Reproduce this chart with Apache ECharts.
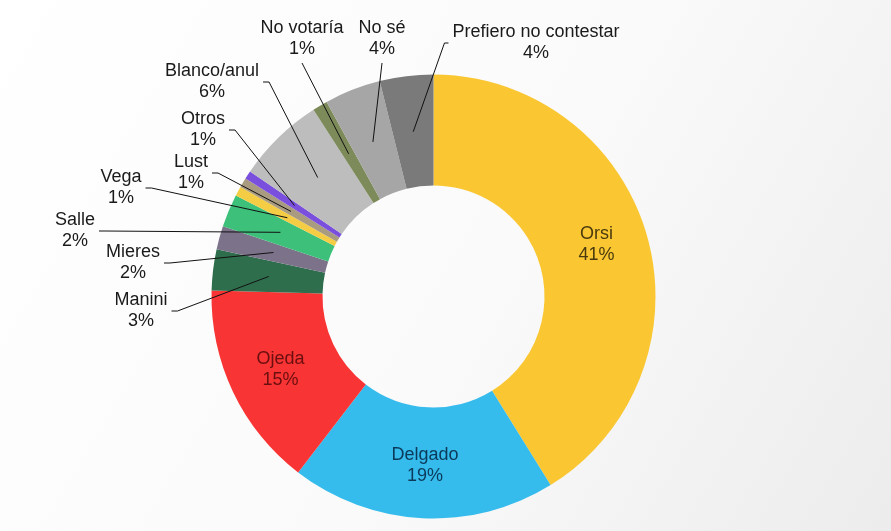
<!DOCTYPE html>
<html>
<head>
<meta charset="utf-8">
<script src="https://cdn.jsdelivr.net/npm/echarts@6/dist/echarts.min.js"></script>
<style>
  html, body { margin: 0; padding: 0; }
  #chart { width: 891px; height: 531px; }
</style>
</head>
<body>
<div id="chart"></div>
<script>
// porcentajes de intención de voto (sentido horario desde arriba)
var names = ['Orsi', 'Delgado', 'Ojeda', 'Manini', 'Mieres', 'Salle', 'Vega', 'Lust', 'Otros',
  'Blanco/anul', 'No votaría', 'No sé', 'Prefiero no contestar'];
var shares = [41.2, 19.3, 15.0, 3.0, 1.7, 2.4, 0.7, 0.7, 0.6, 6.4, 1.1, 4.1, 3.9];
var colors = ['#FAC733', '#35BBEC', '#F93434', '#2F6E4C', '#7C728A', '#3CC07A', '#F4CD45',
  '#A89B80', '#7A4FDE', '#BDBDBD', '#7D8B5B', '#A6A6A6', '#7A7A7A'];

var insideNames = ['Orsi', 'Delgado', 'Ojeda'];
var insideText = { 'Orsi': '#4a3a0e', 'Delgado': '#0c3a5a', 'Ojeda': '#6a0f0f' };

// centro del texto de cada etiqueta externa y lado por donde sale la guía
var labelSpot = {
  'Manini': [141, 311, 'right'],
  'Mieres': [133, 263, 'right'],
  'Salle': [75, 231, 'right'],
  'Vega': [121, 188, 'right'],
  'Lust': [191, 173, 'right'],
  'Otros': [203, 130, 'right'],
  'Blanco/anul': [212, 82, 'right'],
  'No votaría': [302, 39, 'bottom'],
  'No sé': [382, 39, 'bottom'],
  'Prefiero no contestar': [536, 43, 'left']
};

var CX = 433.5, CY = 296.5, R0 = 111, R1 = 222, RMID = 166;

function fmt(p) {
  return p.name + '\n' + Math.round(p.value) + '%';
}

// punto a media altura del aro, en el ángulo medio de la porción
function midRing(idx) {
  var before = 0, total = 0;
  shares.forEach(function (v, k) { total += v; if (k < idx) before += v; });
  var a = (before + shares[idx] / 2) / total * Math.PI * 2;
  return [CX + RMID * Math.sin(a), CY - RMID * Math.cos(a)];
}

var dom = document.getElementById('chart');
var myChart = echarts.init(dom);

var option = {
  backgroundColor: new echarts.graphic.LinearGradient(0, 0, 1, 1, [
    { offset: 0, color: '#ffffff' },
    { offset: 0.55, color: '#fafafa' },
    { offset: 1, color: '#ececec' }
  ]),
  animation: false,
  series: [
    {
      type: 'pie',
      z: 2,
      center: [CX, CY],
      radius: [R0, R1],
      startAngle: 90,
      clockwise: true,
      avoidLabelOverlap: false,
      itemStyle: { borderWidth: 0 },
      label: { show: false },
      labelLine: { show: false },
      labelLayout: function (p) {
        if (names[p.dataIndex] === 'Orsi') return { dy: -5 };
        return {};
      },
      data: names.map(function (n, i) {
        var inside = insideNames.indexOf(n) >= 0;
        return {
          name: n,
          value: shares[i],
          itemStyle: { color: colors[i] },
          label: inside ? {
            show: true,
            position: 'inside',
            formatter: fmt,
            fontFamily: 'Liberation Sans, Arial, sans-serif',
            fontSize: 18,
            lineHeight: 21,
            color: insideText[n]
          } : { show: false }
        };
      })
    },
    {
      // anillo invisible que sólo lleva las etiquetas externas
      type: 'pie',
      z: 5,
      center: [CX, CY],
      radius: [R0, RMID],
      startAngle: 90,
      clockwise: true,
      silent: true,
      avoidLabelOverlap: false,
      itemStyle: { color: 'rgba(0,0,0,0)' },
      label: {
        show: true,
        position: 'outside',
        formatter: fmt,
        fontFamily: 'Liberation Sans, Arial, sans-serif',
        fontSize: 18,
        lineHeight: 21,
        color: '#1a1a1a',
        align: 'center'
      },
      labelLine: {
        show: true,
        length: 10,
        length2: 10,
        smooth: false,
        lineStyle: { color: '#111111', width: 1 }
      },
      labelLayout: function (p) {
        var spot = labelSpot[names[p.dataIndex]];
        if (!spot) return {};
        var w = p.labelRect.width, h = p.labelRect.height;
        var x = spot[0], y = spot[1];
        var start = midRing(p.dataIndex);
        var pts;
        if (spot[2] === 'right') {
          pts = [start, [x + w / 2 + 10, y], [x + w / 2 + 4, y]];
        } else if (spot[2] === 'left') {
          pts = [start, [x - w / 2 - 8, y], [x - w / 2 - 4, y]];
        } else {
          pts = [start, [x, y + h / 2 + 3]];
        }
        return {
          x: x,
          y: y,
          align: 'center',
          verticalAlign: 'middle',
          labelLinePoints: pts
        };
      },
      data: names.map(function (n, i) {
        var inside = insideNames.indexOf(n) >= 0;
        return {
          name: n,
          value: shares[i],
          label: { show: !inside },
          labelLine: { show: !inside }
        };
      })
    }
  ]
};

if (option && typeof option === 'object') {
  myChart.setOption(option, true);
}
</script>
</body>
</html>
